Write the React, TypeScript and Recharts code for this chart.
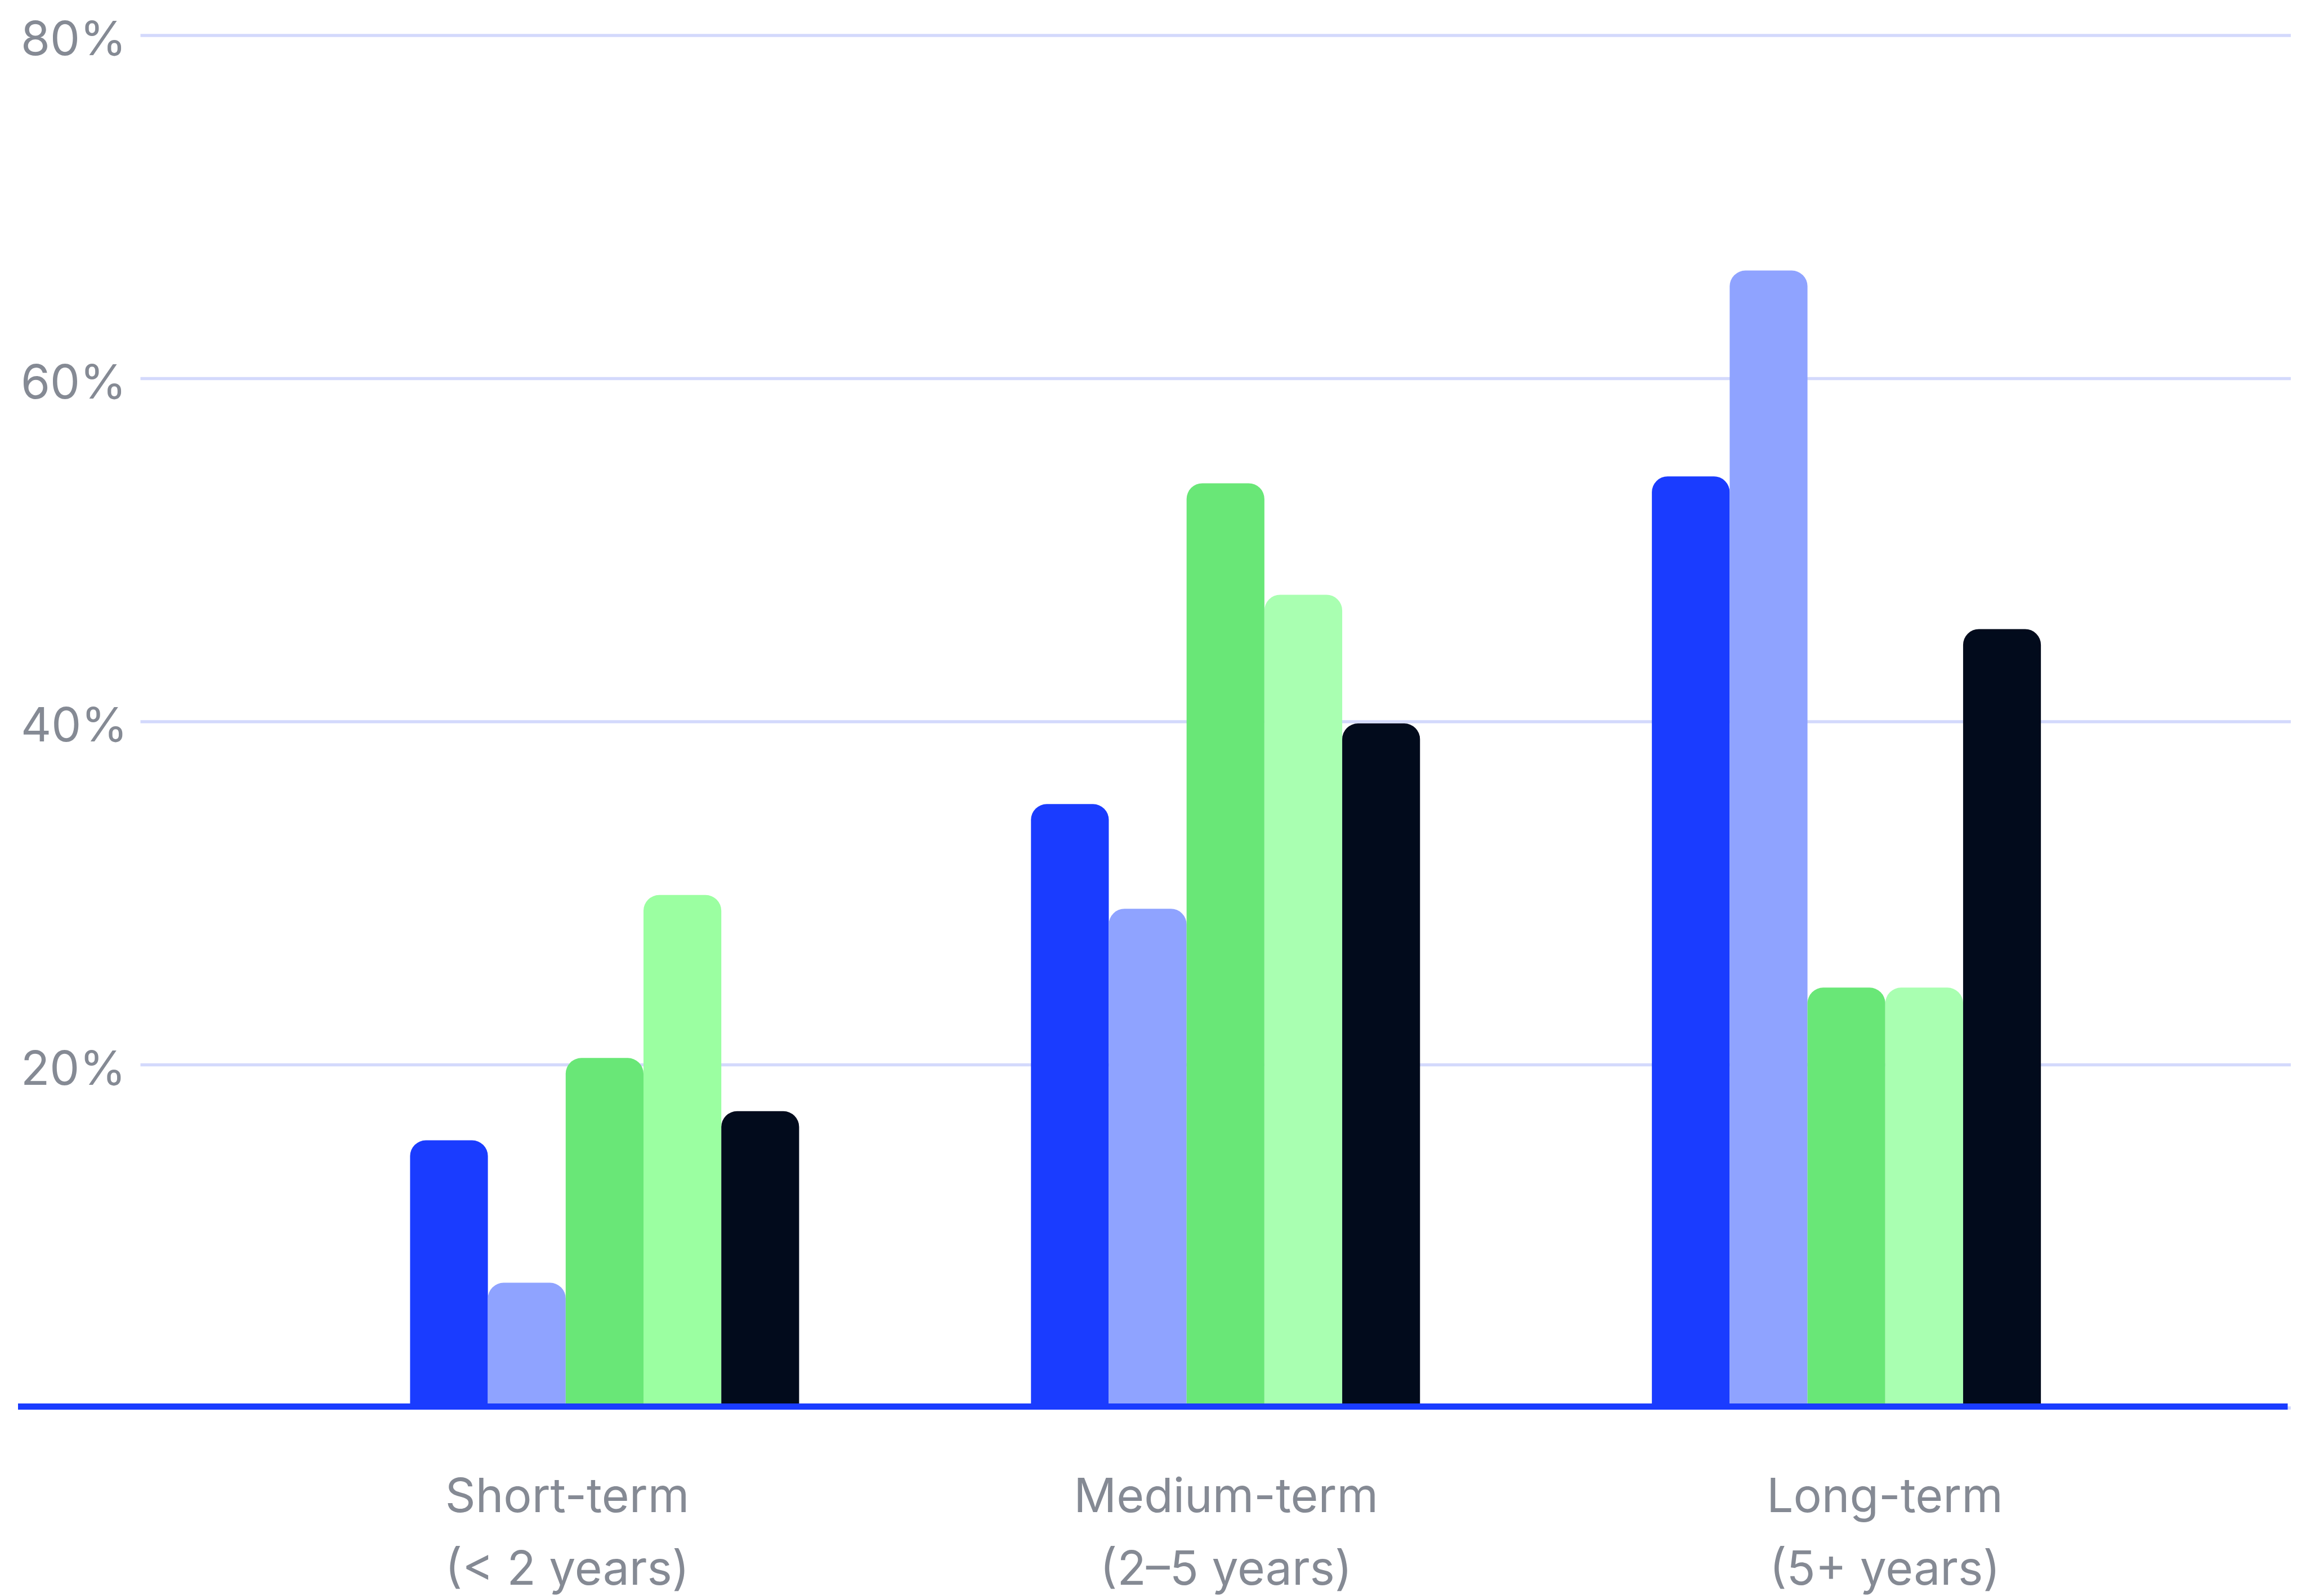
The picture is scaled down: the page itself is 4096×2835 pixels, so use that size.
import { BarChart, Bar, XAxis, YAxis, CartesianGrid, ReferenceLine, Cell } from "recharts";

const categories = ["Short-term", "Medium-term", "Long-term"];
const subtitles = ["(< 2 years)", "(2–5 years)", "(5+ years)"];
const yTicks = [0, 20, 40, 60, 80];

// five series per horizon (percent)
const seriesA = [15.6, 35.2, 54.3];
const seriesB = [7.3, 29.1, 66.3];
const seriesC = [20.4, 53.9, 24.5];
const seriesD = [29.9, 47.4, 24.5];
const seriesE = [17.3, 39.9, 45.4];

const SERIES = [
  { key: "a", values: seriesA, color: "#1A3CFF" },
  { key: "b", values: seriesB, color: "#8FA3FF" },
  { key: "c", values: seriesC, color: "#69E777" },
  { key: "d", values: seriesD, color: "#A9FFB1" },
  { key: "e", values: seriesE, color: "#020B1C" },
];

const data = categories.map((name, i) => {
  const row: Record<string, string | number> = { name };
  SERIES.forEach((s) => { row[s.key] = s.values[i]; });
  return row;
});

const FONT = "Inter, 'Noto Sans', sans-serif";
const TEXT = "#858A94";

function YTick(props: any) {
  const { y, payload } = props;
  if (payload.value === 0) return <g />;
  return (
    <text x={37} y={y} dy={35} fill={TEXT} fontSize={84} fontFamily={FONT} textAnchor="start">
      {`${payload.value}%`}
    </text>
  );
}

function XTick(props: any) {
  const { x, y, payload } = props;
  const i = categories.indexOf(payload.value);
  return (
    <g>
      <text x={x} y={y} dy={147} fill={TEXT} fontSize={84} fontFamily={FONT} textAnchor="middle">
        {payload.value}
      </text>
      <text x={x} y={y} dy={276} fill={TEXT} fontSize={84} fontFamily={FONT} textAnchor="middle">
        {subtitles[i]}
      </text>
    </g>
  );
}

function Baseline(props: any) {
  const { x2, y1 } = props;
  return <line x1={32} x2={x2 - 5.5} y1={y1 - 2.5} y2={y1 - 2.5} stroke="#1A3CFF" strokeWidth={11} />;
}

export default function App() {
  return (
    <div style={{ position: "fixed", left: 0, top: 0, background: "#fff" }}>
      <BarChart
        width={4096}
        height={2835}
        data={data}
        margin={{ top: 63, right: 27, bottom: 0, left: 0 }}
        barSize={138.2}
        barGap={0}
      >
        <CartesianGrid vertical={false} stroke="#D3D9FC" strokeWidth={5.5} />
        <XAxis dataKey="name" hide padding={{ left: 272.9, right: 238 }} />
        <XAxis
          xAxisId="labels"
          dataKey="name"
          height={334}
          axisLine={false}
          tickLine={false}
          tick={<XTick />}
          interval={0}
          padding={{ left: 172.9, right: 136 }}
        />
        <YAxis
          width={249.5}
          domain={[0, 80]}
          ticks={yTicks}
          axisLine={false}
          tickLine={false}
          tick={<YTick />}
        />
        {SERIES.map((s) => (
          <Bar key={s.key} dataKey={s.key} fill={s.color} radius={[28, 28, 0, 0]} isAnimationActive={false}>
            {s.key === "d" && categories.map((c, i) => <Cell key={c} fill={i === 0 ? "#9BFFA1" : s.color} />)}
          </Bar>
        ))}
        <ReferenceLine y={0} shape={<Baseline />} />
      </BarChart>
    </div>
  );
}
